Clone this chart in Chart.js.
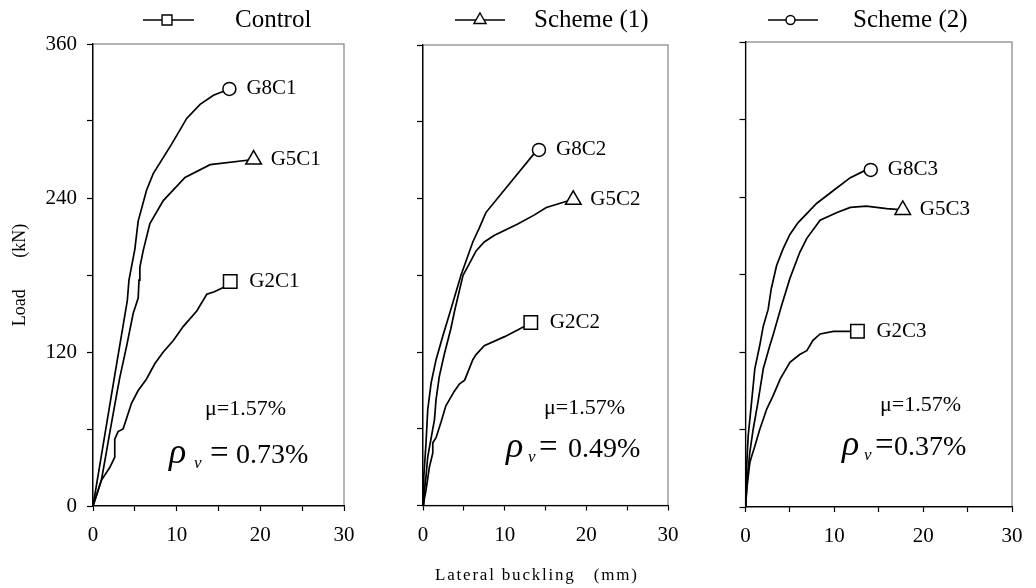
<!DOCTYPE html>
<html>
<head>
<meta charset="utf-8">
<title>Load vs lateral buckling</title>
<script src="https://cdn.jsdelivr.net/npm/chart.js@4.4.1/dist/chart.umd.min.js"></script>
<style>
  html, body { margin: 0; padding: 0; background: #fff; }
  #wrap { position: relative; width: 1036px; height: 588px; overflow: hidden; }
  #wrap canvas { position: absolute; left: 0; top: 0; }
  #xtitle {
    position: absolute; left: 435px; top: 566px;
    font: 17px 'Liberation Serif', 'Times New Roman', serif;
    letter-spacing: 1.8px; white-space: pre; line-height: 1; color: #000;
  }
</style>
</head>
<body>
<div id="wrap">
  <canvas id="p1" width="1036" height="588"></canvas>
  <canvas id="p2" width="1036" height="588"></canvas>
  <canvas id="p3" width="1036" height="588"></canvas>
  <div id="xtitle">Lateral buckling   (mm)</div>
</div>
<script>
// ---- data (lateral buckling mm, load kN) ----
const panelTitles = ['Control', 'Scheme (1)', 'Scheme (2)'];
const specimens = [['G2C1', 'G5C1', 'G8C1'], ['G2C2', 'G5C2', 'G8C2'], ['G2C3', 'G5C3', 'G8C3']];
const muText = 'μ=1.57%';
const rhoValues = ['0.73%', '0.49%', '0.37%'];
const xTickLabels = [0, 10, 20, 30];
const yTickLabels = [0, 120, 240, 360];

const g2c1 = [[0, 0], [1.0, 20], [2.0, 30], [2.6, 38], [2.6, 52], [3.0, 58], [3.6, 60], [3.8, 64], [4.6, 80], [5.4, 90],
  [6.4, 99], [7.4, 111], [8.4, 120], [9.6, 129], [10.8, 140], [12.4, 152], [13.6, 165], [14.5, 167], [15.5, 170], [16.4, 175]];
const g5c1 = [[0, 0], [1.0, 20], [1.6, 42], [2.0, 57], [2.8, 86], [3.2, 100], [4.0, 124], [4.8, 150], [5.4, 162], [5.5, 176],
  [5.6, 186], [6.0, 199], [6.8, 220], [8.4, 238], [11.0, 256], [14.0, 266], [19.2, 270]];
const g8c1 = [[0, 0], [2.5, 98], [4.1, 160], [4.3, 176], [5.0, 200], [5.4, 222], [6.4, 246], [7.2, 259], [9.4, 282],
  [11.2, 302], [12.8, 313], [14.4, 320], [16.3, 325]];

const g2c2 = [[0, 0], [0.37, 12], [0.78, 30], [1.2, 41], [1.2, 49], [1.6, 53], [2.2, 65], [2.8, 78], [3.8, 89], [4.45, 95],
  [5.1, 98], [6.1, 114], [6.5, 118], [7.5, 125], [10.0, 132], [12.4, 140], [13.2, 143]];
const g5c2 = [[0, 0], [0.37, 23], [0.58, 38], [1.4, 67], [1.6, 83], [2.0, 101], [2.6, 118], [3.4, 138], [3.9, 153], [4.9, 180],
  [5.5, 187], [6.5, 199], [7.5, 206], [8.7, 211], [11.6, 220], [13.6, 227], [15.1, 233], [17.7, 238], [18.4, 239]];
const g8c2 = [[0, 0], [0.1, 23], [0.37, 49], [0.58, 75], [1.0, 96], [1.6, 114], [2.4, 132], [3.4, 153], [4.65, 180],
  [6.1, 206], [6.9, 217], [7.7, 229], [13.6, 275], [14.2, 278]];

const g2c3 = [[0, 0], [0.18, 16], [0.48, 34], [0.68, 39], [1.05, 47], [1.6, 60], [2.4, 76], [3.1, 86], [3.9, 99], [5.0, 112],
  [6.1, 118], [6.9, 121], [7.6, 129], [8.4, 134], [9.9, 136], [12.6, 136]];
const g5c3 = [[0, 0], [0.18, 21], [0.48, 42], [0.86, 60], [1.4, 81], [2.0, 107], [2.74, 125], [3.1, 133], [4.06, 156],
  [5.0, 177], [6.1, 197], [6.9, 208], [8.4, 222], [10.3, 228], [11.8, 232], [13.6, 233], [15.9, 231], [17.7, 230]];
const g8c3 = [[0, 0], [0.11, 29], [0.3, 55], [0.68, 81], [1.05, 107], [1.6, 125], [2.0, 140], [2.55, 153], [2.9, 169],
  [3.5, 187], [4.24, 200], [5.0, 211], [5.9, 220], [8.0, 235], [9.9, 245], [11.8, 255], [13.3, 260], [14.1, 261]];

const seriesByPanel = [[g2c1, g5c1, g8c1], [g2c2, g5c2, g8c2], [g2c3, g5c3, g8c3]];

// ---- layout / style ----
const FONT = "'Liberation Serif', 'Times New Roman', serif";
const Y_W = 93, X_H = 40;
const MARKERS = [
  { style: 'rect', r: 9.5, legendR: 7, dx: 19 },
  { style: 'triangle', r: 9, legendR: 7, dx: 17 },
  { style: 'circle', r: 6.5, legendR: 4.5, dx: 17 }
];
// rho: [rho x, subscript x, equals x, value x, baseline]
const PANELS = [
  { area: [93, 344, 44, 506], legend: [143, 194, 167, 235], mu: [205, 415], rho: [169, 194, 210, 236, 463], yLabels: true },
  { area: [423, 668, 45, 505.5], legend: [455, 505, 480, 534], mu: [544, 414], rho: [506, 528, 539, 568, 457], yLabels: false },
  { area: [745.5, 1012, 42, 507], legend: [768, 818, 790.5, 853], mu: [880, 411], rho: [842, 864, 875, 894, 455], yLabels: false }
];

function marker(ctx, style, r, x, y) {
  ctx.fillStyle = '#fff';
  ctx.strokeStyle = '#000';
  ctx.lineWidth = 1.4;
  Chart.helpers.drawPoint(ctx, { pointStyle: style, radius: r, borderWidth: 1.4, rotation: 0 }, x, y);
}

const decor = {
  id: 'decor',
  beforeDraw(chart) {
    const { ctx, chartArea: a } = chart;
    ctx.save();
    ctx.strokeStyle = '#8c8c8c';
    ctx.lineWidth = 1.3;
    ctx.strokeRect(a.left, a.top, a.right - a.left, a.bottom - a.top);
    ctx.restore();
  },
  afterDatasetsDraw(chart, args, opts) {
    const { ctx } = chart;
    const p = PANELS[opts.index];
    ctx.save();
    ctx.fillStyle = '#000';
    // specimen labels beside the end markers
    ctx.font = `21px ${FONT}`;
    ctx.textBaseline = 'middle';
    chart.data.datasets.forEach((ds, i) => {
      const pts = chart.getDatasetMeta(i).data;
      const end = pts[pts.length - 1];
      ctx.fillText(ds.label, end.x + MARKERS[i].dx, end.y);
    });

    // panel header: line + marker + title
    const [x1, x2, mx, tx] = p.legend;
    ctx.strokeStyle = '#000';
    ctx.lineWidth = 1.5;
    ctx.beginPath();
    ctx.moveTo(x1, 20);
    ctx.lineTo(x2, 20);
    ctx.stroke();
    const m = MARKERS[opts.index];
    marker(ctx, m.style, m.legendR, mx, 20);
    ctx.fillStyle = '#000';
    ctx.textBaseline = 'alphabetic';
    ctx.font = `25px ${FONT}`;
    ctx.fillText(panelTitles[opts.index], tx, 27);

    // reinforcement notes
    ctx.font = `22px ${FONT}`;
    ctx.fillText(muText, p.mu[0], p.mu[1]);
    const [rx, sx, ex, vx, by] = p.rho;
    ctx.font = `italic 36px ${FONT}`;
    ctx.fillText('ρ', rx, by);
    ctx.font = `italic 17px ${FONT}`;
    ctx.fillText('v', sx, by + 5);
    ctx.font = `33px ${FONT}`;
    ctx.fillText('=', ex, by);
    ctx.font = `28px ${FONT}`;
    ctx.fillText(rhoValues[opts.index], vx, by);
    ctx.restore();
  }
};

function makePanel(index) {
  const p = PANELS[index];
  const [left, right, top, bottom] = p.area;
  const datasets = seriesByPanel[index].map((pts, i) => ({
    label: specimens[index][i],
    data: pts.map(([x, y]) => ({ x, y })),
    borderColor: '#000',
    borderWidth: 1.7,
    tension: 0,
    fill: false,
    pointStyle: MARKERS[i].style,
    pointRadius: ctx => (ctx.dataIndex === pts.length - 1 ? MARKERS[i].r : 0),
    pointBackgroundColor: '#fff',
    pointBorderColor: '#000',
    pointBorderWidth: 1.5
  }));

  new Chart(document.getElementById('p' + (index + 1)), {
    type: 'line',
    data: { datasets },
    options: {
      responsive: false,
      animation: false,
      events: [],
      layout: { padding: { left: left - Y_W, right: 1036 - right, top: top, bottom: 588 - bottom - X_H } },
      plugins: {
        legend: { display: false },
        tooltip: { enabled: false },
        decor: { index }
      },
      scales: {
        x: {
          type: 'linear', min: 0, max: 30,
          afterFit: s => { s.height = X_H; },
          border: { color: '#000', width: 1.3 },
          grid: { drawOnChartArea: false, drawTicks: true, tickLength: 5, tickColor: '#000', tickWidth: 1.2 },
          ticks: {
            stepSize: 5, autoSkip: false, maxRotation: 0, padding: 12, color: '#000',
            font: { family: FONT, size: 21 },
            callback: v => (xTickLabels.includes(v) ? String(v) : '')
          }
        },
        y: {
          min: 0, max: 360,
          afterFit: s => { s.width = Y_W; },
          border: { color: '#000', width: 1.3 },
          grid: { drawOnChartArea: false, drawTicks: true, tickLength: 6, tickColor: '#000', tickWidth: 1.2 },
          title: {
            display: p.yLabels, text: 'Load       (kN)', color: '#000',
            font: { family: FONT, size: 18 }, padding: { top: 9, bottom: 0 }
          },
          ticks: {
            stepSize: 60, autoSkip: false, padding: 10, color: '#000',
            font: { family: FONT, size: 21 },
            callback: v => (p.yLabels && yTickLabels.includes(v) ? String(v) : '')
          }
        }
      }
    },
    plugins: [decor]
  });
}

[0, 1, 2].forEach(makePanel);
</script>
</body>
</html>
